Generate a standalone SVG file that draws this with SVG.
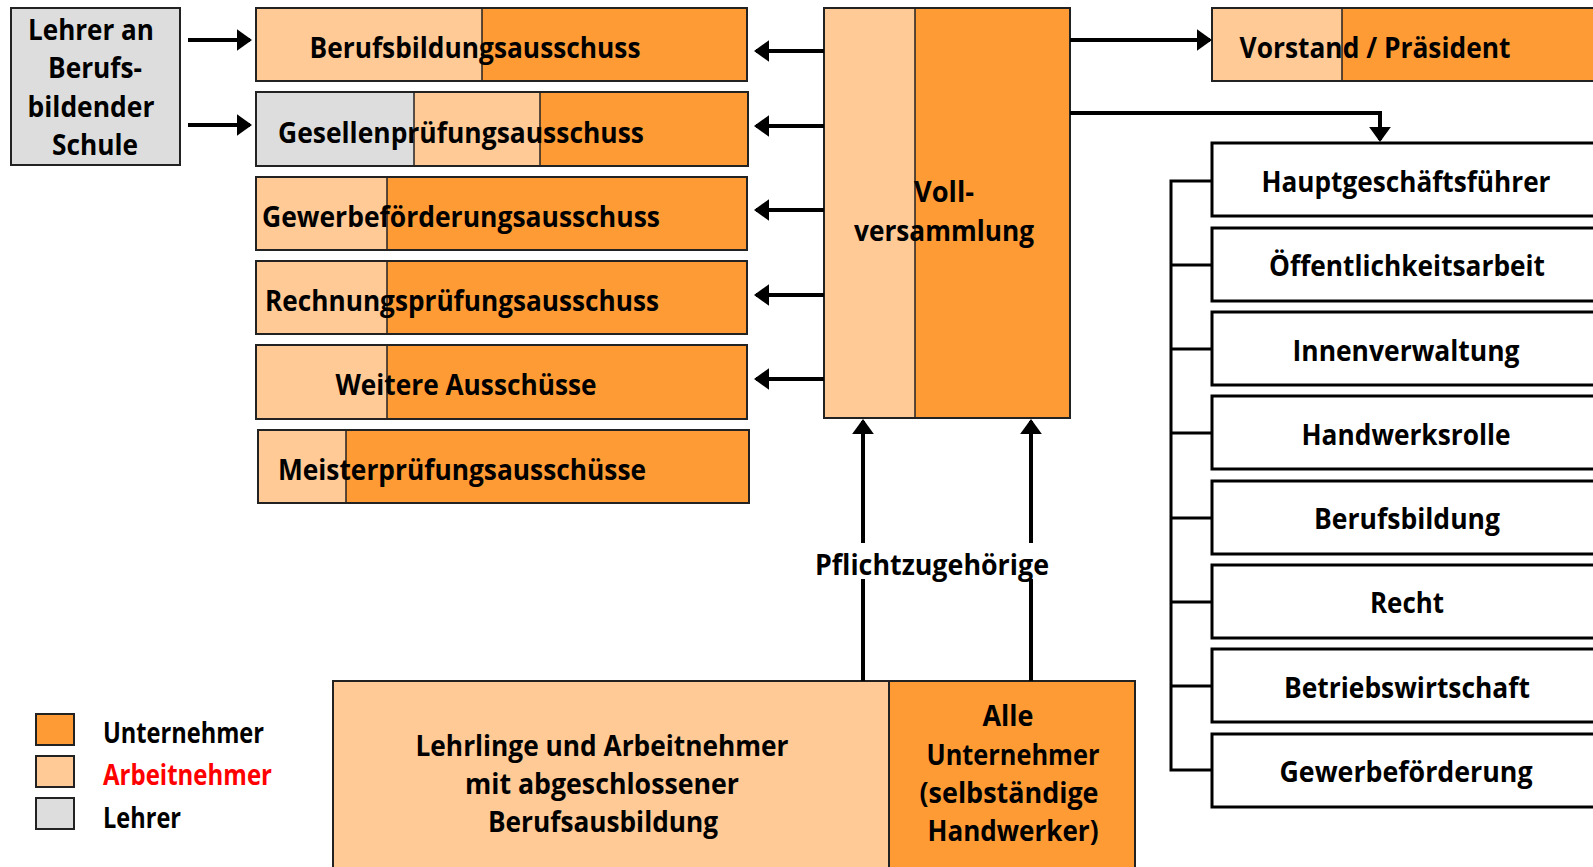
<svg xmlns="http://www.w3.org/2000/svg" width="1593" height="867" viewBox="0 0 1593 867">
<style>
text{font-family:"Open Sans","Noto Sans","DejaVu Sans",sans-serif;font-weight:bold;font-size:29px;fill:#000;text-anchor:middle}
.o{fill:#FF9B35}
.l{fill:#FFCA96}
.g{fill:#DDDDDD}
.bx{fill:none;stroke:#222;stroke-width:2}
.wb{fill:#fff;stroke:#000;stroke-width:3}
.ln{fill:none;stroke:#000;stroke-width:4}
.br{fill:none;stroke:#000;stroke-width:3}
</style>
<defs>
<marker id="ah" markerWidth="4" markerHeight="6" refX="3.3" refY="2.75" orient="auto" markerUnits="strokeWidth">
<path d="M0,0 L3.8,2.75 L0,5.5 Z" fill="#000"/>
</marker>
</defs>
<rect width="1593" height="867" fill="#fff"/>

<g id="lehrer">
<rect x="11" y="8" width="169" height="157" class="g"/>
<rect x="11" y="8" width="169" height="157" class="bx"/>
<text x="91" y="40" textLength="126" lengthAdjust="spacingAndGlyphs">Lehrer an</text>
<text x="95" y="78" textLength="94" lengthAdjust="spacingAndGlyphs">Berufs-</text>
<text x="91" y="117" textLength="127" lengthAdjust="spacingAndGlyphs">bildender</text>
<text x="95" y="155" textLength="86" lengthAdjust="spacingAndGlyphs">Schule</text>
</g>

<g id="berufsbildungsausschuss">
<rect x="256" y="8" width="226" height="73" class="l"/>
<rect x="482" y="8" width="265" height="73" class="o"/>
<line x1="482" y1="8" x2="482" y2="81" stroke="#222" stroke-width="1.5"/>
<rect x="256" y="8" width="491" height="73" class="bx"/>
<text x="475" y="58" textLength="331" lengthAdjust="spacingAndGlyphs">Berufsbildungsausschuss</text>
</g>

<g id="gesellenpruefungsausschuss">
<rect x="256" y="92" width="158" height="74" class="g"/>
<rect x="414" y="92" width="126" height="74" class="l"/>
<rect x="540" y="92" width="208" height="74" class="o"/>
<line x1="414" y1="92" x2="414" y2="166" stroke="#222" stroke-width="1.5"/>
<line x1="540" y1="92" x2="540" y2="166" stroke="#222" stroke-width="1.5"/>
<rect x="256" y="92" width="492" height="74" class="bx"/>
<text x="461" y="143" textLength="366" lengthAdjust="spacingAndGlyphs">Gesellenprüfungsausschuss</text>
</g>

<g id="gewerbefoerderungsausschuss">
<rect x="256" y="177" width="131" height="73" class="l"/>
<rect x="387" y="177" width="360" height="73" class="o"/>
<line x1="387" y1="177" x2="387" y2="250" stroke="#222" stroke-width="1.5"/>
<rect x="256" y="177" width="491" height="73" class="bx"/>
<text x="461" y="227" textLength="398" lengthAdjust="spacingAndGlyphs">Gewerbeförderungsausschuss</text>
</g>

<g id="rechnungspruefungsausschuss">
<rect x="256" y="261" width="131" height="73" class="l"/>
<rect x="387" y="261" width="360" height="73" class="o"/>
<line x1="387" y1="261" x2="387" y2="334" stroke="#222" stroke-width="1.5"/>
<rect x="256" y="261" width="491" height="73" class="bx"/>
<text x="462" y="311" textLength="394" lengthAdjust="spacingAndGlyphs">Rechnungsprüfungsausschuss</text>
</g>

<g id="weitere">
<rect x="256" y="345" width="131" height="74" class="l"/>
<rect x="387" y="345" width="360" height="74" class="o"/>
<line x1="387" y1="345" x2="387" y2="419" stroke="#222" stroke-width="1.5"/>
<rect x="256" y="345" width="491" height="74" class="bx"/>
<text x="466" y="395" textLength="261" lengthAdjust="spacingAndGlyphs">Weitere Ausschüsse</text>
</g>

<g id="meisterpruefungsausschuesse">
<rect x="258" y="430" width="88" height="73" class="l"/>
<rect x="346" y="430" width="403" height="73" class="o"/>
<line x1="346" y1="430" x2="346" y2="503" stroke="#222" stroke-width="1.5"/>
<rect x="258" y="430" width="491" height="73" class="bx"/>
<text x="462" y="480" textLength="368" lengthAdjust="spacingAndGlyphs">Meisterprüfungsausschüsse</text>
</g>

<g id="vollversammlung">
<rect x="824" y="8" width="91" height="410" class="l"/>
<rect x="915" y="8" width="155" height="410" class="o"/>
<line x1="915" y1="8" x2="915" y2="418" stroke="#222" stroke-width="1.5"/>
<rect x="824" y="8" width="246" height="410" class="bx"/>
<text x="944" y="202" textLength="60" lengthAdjust="spacingAndGlyphs">Voll-</text>
<text x="944" y="241" textLength="180" lengthAdjust="spacingAndGlyphs">versammlung</text>
</g>

<g id="vorstand">
<rect x="1212" y="8" width="130" height="73" class="l"/>
<rect x="1342" y="8" width="260" height="73" class="o"/>
<line x1="1342" y1="8" x2="1342" y2="81" stroke="#222" stroke-width="1.5"/>
<rect x="1212" y="8" width="390" height="73" class="bx"/>
<text x="1375" y="58" textLength="271" lengthAdjust="spacingAndGlyphs">Vorstand / Präsident</text>
</g>

<g id="hauptgeschaeftsfuehrer">
<rect x="1212" y="143" width="390" height="73" class="wb"/>
<text x="1406" y="192" textLength="289" lengthAdjust="spacingAndGlyphs">Hauptgeschäftsführer</text>
</g>
<g id="oeffentlichkeitsarbeit">
<rect x="1212" y="228" width="390" height="73" class="wb"/>
<text x="1407" y="276" textLength="276" lengthAdjust="spacingAndGlyphs">Öffentlichkeitsarbeit</text>
</g>
<g id="innenverwaltung">
<rect x="1212" y="312" width="390" height="73" class="wb"/>
<text x="1406" y="361" textLength="227" lengthAdjust="spacingAndGlyphs">Innenverwaltung</text>
</g>
<g id="handwerksrolle">
<rect x="1212" y="396" width="390" height="73" class="wb"/>
<text x="1406" y="445" textLength="209" lengthAdjust="spacingAndGlyphs">Handwerksrolle</text>
</g>
<g id="berufsbildung">
<rect x="1212" y="481" width="390" height="73" class="wb"/>
<text x="1407" y="529" textLength="186" lengthAdjust="spacingAndGlyphs">Berufsbildung</text>
</g>
<g id="recht">
<rect x="1212" y="565" width="390" height="73" class="wb"/>
<text x="1407" y="613" textLength="74" lengthAdjust="spacingAndGlyphs">Recht</text>
</g>
<g id="betriebswirtschaft">
<rect x="1212" y="649" width="390" height="73" class="wb"/>
<text x="1407" y="698" textLength="246" lengthAdjust="spacingAndGlyphs">Betriebswirtschaft</text>
</g>
<g id="gewerbefoerderung">
<rect x="1212" y="734" width="390" height="73" class="wb"/>
<text x="1406" y="782" textLength="253" lengthAdjust="spacingAndGlyphs">Gewerbeförderung</text>
</g>

<g id="lehrlinge">
<rect x="333" y="681" width="556" height="200" class="l"/>
<rect x="333" y="681" width="556" height="200" class="bx"/>
<text x="602" y="756" textLength="373" lengthAdjust="spacingAndGlyphs">Lehrlinge und Arbeitnehmer</text>
<text x="602" y="794" textLength="274" lengthAdjust="spacingAndGlyphs">mit abgeschlossener</text>
<text x="603" y="832" textLength="230" lengthAdjust="spacingAndGlyphs">Berufsausbildung</text>
</g>

<g id="alle-unternehmer">
<rect x="889" y="681" width="246" height="200" class="o"/>
<rect x="889" y="681" width="246" height="200" class="bx"/>
<text x="1008" y="726" textLength="51" lengthAdjust="spacingAndGlyphs">Alle</text>
<text x="1013" y="765" textLength="173" lengthAdjust="spacingAndGlyphs">Unternehmer</text>
<text x="1009" y="803" textLength="179" lengthAdjust="spacingAndGlyphs">(selbständige</text>
<text x="1013" y="841" textLength="171" lengthAdjust="spacingAndGlyphs">Handwerker)</text>
</g>

<g id="legend">
<rect x="36" y="714" width="38" height="31" class="o"/>
<rect x="36" y="714" width="38" height="31" class="bx"/>
<rect x="36" y="756" width="38" height="31" class="l"/>
<rect x="36" y="756" width="38" height="31" class="bx"/>
<rect x="36" y="798" width="38" height="31" class="g"/>
<rect x="36" y="798" width="38" height="31" class="bx"/>
<text x="103" y="743" style="text-anchor:start" textLength="161" lengthAdjust="spacingAndGlyphs">Unternehmer</text>
<text x="103" y="785" style="text-anchor:start;fill:#FF0000" textLength="169" lengthAdjust="spacingAndGlyphs">Arbeitnehmer</text>
<text x="103" y="828" style="text-anchor:start" textLength="78" lengthAdjust="spacingAndGlyphs">Lehrer</text>
</g>

<g id="connectors">
<line x1="188" y1="40" x2="250" y2="40" class="ln" marker-end="url(#ah)"/>
<line x1="188" y1="125" x2="250" y2="125" class="ln" marker-end="url(#ah)"/>
<line x1="824" y1="51" x2="756" y2="51" class="ln" marker-end="url(#ah)"/>
<line x1="824" y1="126" x2="756" y2="126" class="ln" marker-end="url(#ah)"/>
<line x1="824" y1="210" x2="756" y2="210" class="ln" marker-end="url(#ah)"/>
<line x1="824" y1="295" x2="756" y2="295" class="ln" marker-end="url(#ah)"/>
<line x1="824" y1="379" x2="756" y2="379" class="ln" marker-end="url(#ah)"/>
<line x1="1070" y1="40" x2="1210" y2="40" class="ln" marker-end="url(#ah)"/>
<polyline points="1070,113 1380,113 1380,140" class="ln" marker-end="url(#ah)"/>
<line x1="863" y1="543" x2="863" y2="421" class="ln" marker-end="url(#ah)"/>
<line x1="863" y1="681" x2="863" y2="579" class="ln"/>
<line x1="1031" y1="543" x2="1031" y2="421" class="ln" marker-end="url(#ah)"/>
<line x1="1031" y1="681" x2="1031" y2="579" class="ln"/>
<polyline points="1212,181 1171,181 1171,770 1212,770" class="br"/>
<line x1="1171" y1="265" x2="1212" y2="265" class="br"/>
<line x1="1171" y1="349" x2="1212" y2="349" class="br"/>
<line x1="1171" y1="433" x2="1212" y2="433" class="br"/>
<line x1="1171" y1="518" x2="1212" y2="518" class="br"/>
<line x1="1171" y1="602" x2="1212" y2="602" class="br"/>
<line x1="1171" y1="686" x2="1212" y2="686" class="br"/>
<text x="932" y="575" textLength="234" lengthAdjust="spacingAndGlyphs">Pflichtzugehörige</text>
</g>
</svg>
